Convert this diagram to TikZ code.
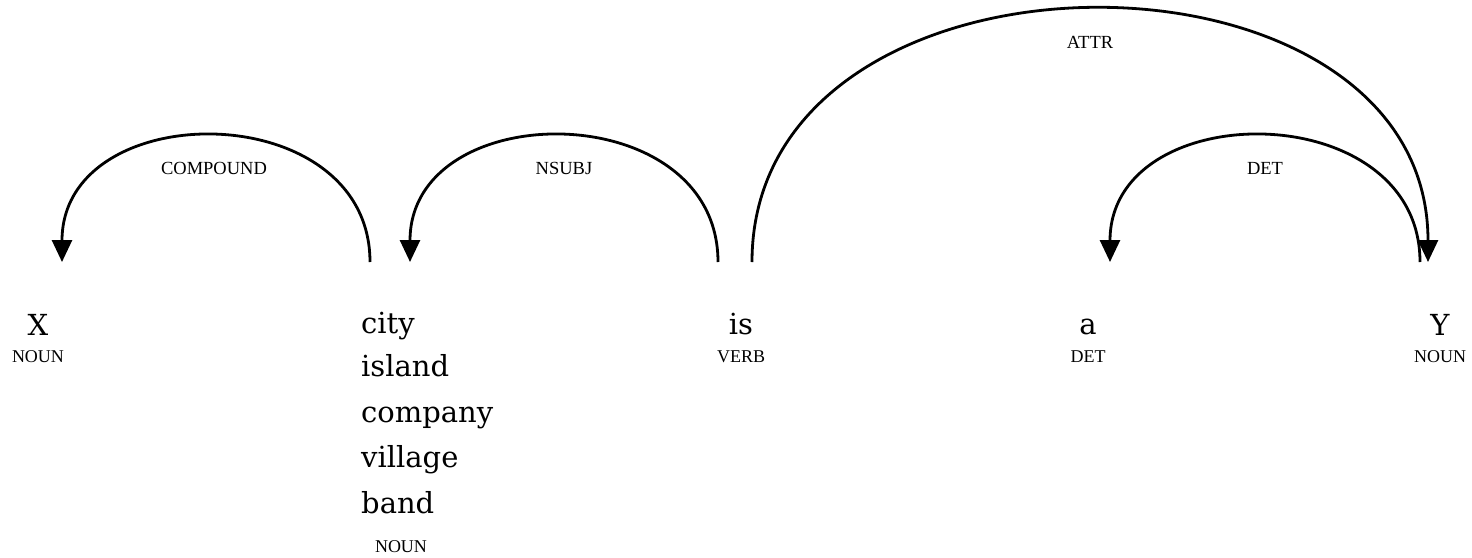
\documentclass[tikz,border=0pt]{standalone}
\usepackage{fontspec}
\setmainfont{Liberation Serif}
\newfontfamily\wordfont{DejaVu Serif}
\usetikzlibrary{arrows.meta}
\tikzset{
  word/.style={inner sep=0pt, anchor=base, font=\wordfont\fontsize{29}{31}\selectfont},
  wordl/.style={inner sep=0pt, anchor=base west, font=\wordfont\fontsize{29}{31}\selectfont},
  tag/.style={inner sep=0pt, anchor=base, font=\fontsize{18}{20}\selectfont},
  deplabel/.style={inner sep=0pt, anchor=base, font=\fontsize{18.5}{20}\selectfont},
  arc/.style={line width=2.8pt, -{Triangle[width=20pt,length=22pt]}},
}
\begin{document}
\begin{tikzpicture}[x=1pt,y=-1pt]
\useasboundingbox (0,0) rectangle (1472,557);
% words
\node[word] (X) at (38,335) {X};
\node[tag] (Xt) at (38,362) {NOUN};
\node[wordl] (city) at (361,333) {city};
\node[wordl] (island) at (361,376) {island};
\node[wordl] (company) at (361,422) {company};
\node[wordl] (village) at (361,467) {village};
\node[wordl] (band) at (361,513) {band};
\node[tag] (cityt) at (401,552) {NOUN};
\node[word] (is) at (741,334) {is};
\node[tag] (ist) at (741,362) {VERB};
\node[word] (a) at (1088,334) {a};
\node[tag] (at) at (1088,362) {DET};
\node[word] (Y) at (1440,335) {Y};
\node[tag] (Yt) at (1440,362) {NOUN};
% arc end points
\coordinate (cmpS) at (370,262);
\coordinate (cmpE) at (62,262);
\coordinate (nsS) at (718,262);
\coordinate (nsE) at (410,262);
\coordinate (atS) at (752,262);
\coordinate (atE) at (1428,262);
\coordinate (dtS) at (1420,262);
\coordinate (dtE) at (1110,262);
% arcs
\draw[arc] (cmpS) .. controls (370,95) and (62,95) .. (cmpE);
\draw[arc] (nsS) .. controls (718,95) and (410,95) .. (nsE);
\draw[arc] (dtS) .. controls (1420,95) and (1110,95) .. (dtE);
\draw[arc] (atS) .. controls (752,-74) and (1428,-74) .. (atE);
% labels
\node[deplabel] (lcmp) at (214,174) {COMPOUND};
\node[deplabel] (lns) at (564,174) {NSUBJ};
\node[deplabel] (lat) at (1090,48) {ATTR};
\node[deplabel] (ldt) at (1265,174) {DET};
\end{tikzpicture}
\end{document}
